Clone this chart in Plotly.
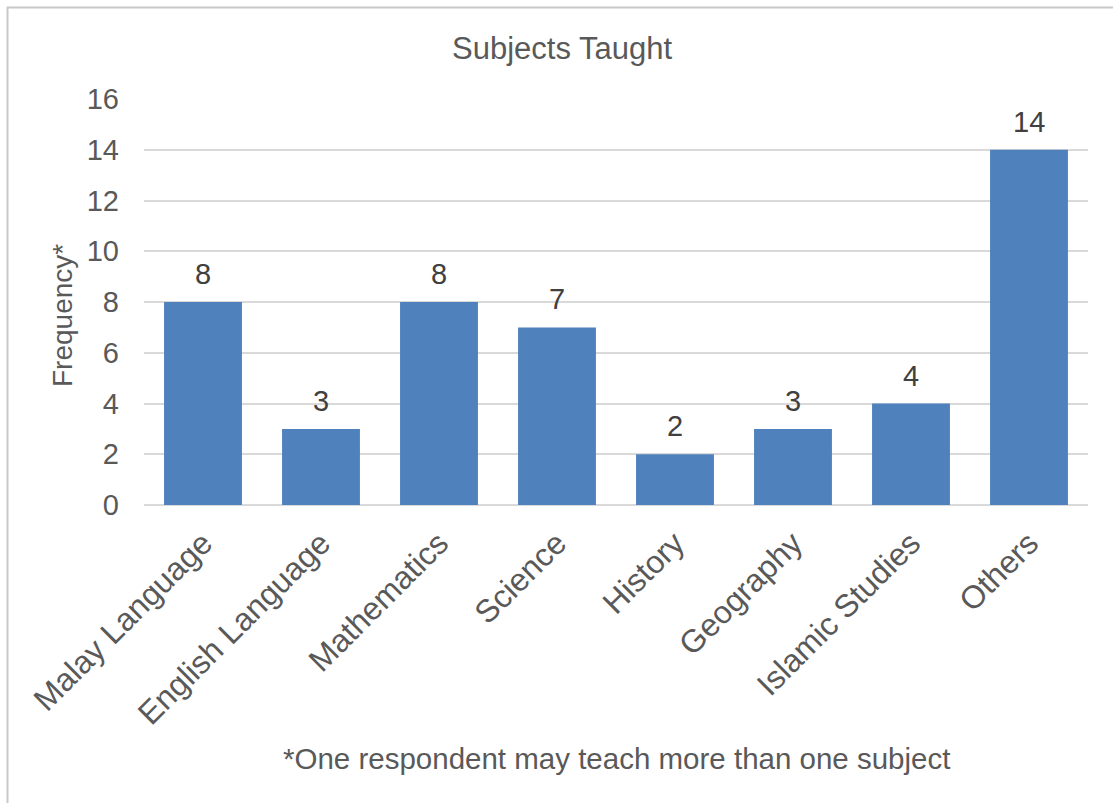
import plotly.graph_objects as go

subjects = ["Malay Language", "English Language", "Mathematics", "Science",
            "History", "Geography", "Islamic Studies", "Others"]
frequency = [8, 3, 8, 7, 2, 3, 4, 14]
y_ticks = [0, 2, 4, 6, 8, 10, 12, 14, 16]

TEXT = "#595959"
FONT = "Liberation Sans, Arial, sans-serif"

fig = go.Figure(
    go.Bar(
        x=subjects,
        y=frequency,
        marker=dict(color="#4F81BD", line=dict(width=0)),
        hoverinfo="x+y",
    )
)

W, H = 1113, 803
L, R, T, B = 144, 25, 99, 298
pw, ph = W - L - R, H - T - B


def px_x(p):
    return (p - L) / pw


def px_y(p):
    return (H - B - p) / ph


# value labels sitting above each bar
value_labels = [
    dict(text=str(v), x=s, y=v, xref="x", yref="y",
         xanchor="center", yanchor="bottom", yshift=10, showarrow=False,
         font=dict(size=29, color="#404040", family=FONT))
    for s, v in zip(subjects, frequency)
]

fig.update_layout(
    width=W,
    height=H,
    margin=dict(l=L, r=R, t=T, b=B),
    paper_bgcolor="white",
    plot_bgcolor="white",
    showlegend=False,
    bargap=0.34,
    font=dict(family=FONT, color=TEXT, size=29),
    title=dict(text="Subjects Taught", xref="container", x=562 / W, xanchor="center",
               y=1 - 48 / H, yanchor="middle",
               font=dict(size=31, color=TEXT, family=FONT)),
    xaxis=dict(
        tickangle=-45,
        tickfont=dict(size=32, color=TEXT),
        showgrid=False,
        showline=False,
        ticks="",
        ticklen=0,
        ticklabelstandoff=12,
    ),
    yaxis=dict(
        range=[0, 16],
        tickvals=y_ticks,
        tickfont=dict(size=29, color=TEXT),
        showgrid=True,
        gridcolor="#D9D9D9",
        gridwidth=1.5,
        zeroline=True,
        zerolinecolor="#D9D9D9",
        zerolinewidth=1.5,
        showline=False,
        ticks="",
        ticklabelstandoff=24,
    ),
    annotations=value_labels + [
        # y-axis title
        dict(text="Frequency*", textangle=-90,
             xref="paper", yref="paper", x=px_x(62), y=px_y(316),
             xanchor="center", yanchor="middle", showarrow=False,
             font=dict(size=28, color=TEXT, family=FONT)),
        dict(text="*One respondent may teach more than one subject",
             xref="paper", yref="paper", x=px_x(616), y=px_y(758),
             xanchor="center", yanchor="middle", showarrow=False,
             font=dict(size=29.5, color=TEXT, family=FONT)),
    ],
    shapes=[
        dict(type="rect", xref="paper", yref="paper",
             x0=px_x(7.5), x1=px_x(1125), y0=px_y(815), y1=px_y(7.5),
             line=dict(color="#C8C8C8", width=2), fillcolor="rgba(0,0,0,0)",
             layer="below"),
    ],
)

fig.write_html("out.html")
